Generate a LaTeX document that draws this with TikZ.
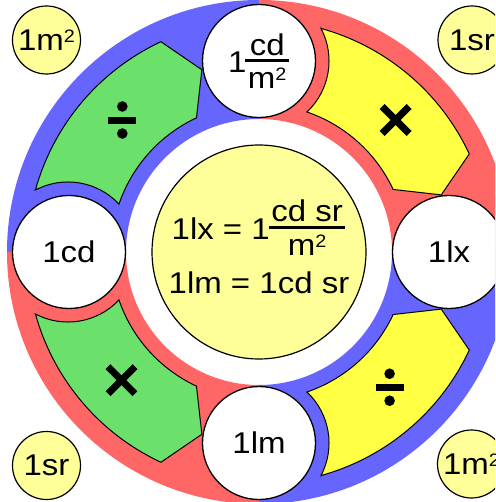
\documentclass[tikz,border=0pt]{standalone}
\usepackage{graphicx}
\usepackage{fontspec}
\setmainfont{Liberation Sans}[FakeStretch=1.1]
\definecolor{ringblue}{HTML}{6666FF}
\definecolor{ringred}{HTML}{FF6666}
\definecolor{bandgreen}{HTML}{6BE06B}
\definecolor{bandyellow}{HTML}{FFFF44}
\definecolor{paleyellow}{HTML}{FFFF99}
\newdimen\frW
\newcommand\sqr{\raisebox{0.27em}{\scalebox{0.6}{2}}}
\newcommand\fr[2]{%
  \setbox0=\hbox{#1}\setbox2=\hbox{#2}%
  \ifdim\wd0>\wd2 \frW=\wd0 \else \frW=\wd2 \fi
  \advance\frW by 5pt
  \hbox{\kern-1pt
    \rlap{\hbox to\frW{\hss\raise17.5pt\box0\hss}}%
    \rlap{\hbox to\frW{\hss\lower16pt\box2\hss}}%
    \raise10.8pt\hbox{\vrule width\frW height 3pt depth 0pt}%
    \kern1pt}}
% #1 = angle of the node at the concave end, #2 = +1 or -1 (direction), #3 = fill colour
\newcommand\arrowband[3]{%
  \filldraw[bandline, fill=#3]
    ({#1+(#2)*15.5}:232pt) arc[start angle={#1+(#2)*15.5}, end angle={#1+(#2)*65}, radius=232pt]
    -- ({#1+(#2)*72.6}:191pt) -- ({#1+(#2)*65}:148pt)
    arc[start angle={#1+(#2)*65}, end angle={#1+(#2)*18.9}, radius=148pt]
    arc[start angle={#1+(#2)*136.8}, end angle={#1+(#2)*62.3}, radius=70pt] -- cycle;}
\tikzset{
  bandline/.style={draw=black, line width=1pt, line join=miter},
  ringnode/.style={circle, draw=black, line width=1.3pt, fill=white, minimum size=113pt, inner sep=0pt, font=\fontsize{30}{36}\selectfont},
  cornernode/.style={circle, draw=black, line width=1.2pt, fill=paleyellow, minimum size=68pt, inner sep=0pt, font=\fontsize{30}{36}\selectfont},
  hub/.style={circle, draw=black, line width=1.2pt, fill=paleyellow, minimum size=214pt, inner sep=0pt, align=center, font=\fontsize{30}{36}\selectfont},
  opmark/.style={line width=7pt, line cap=butt}
}
\begin{document}
\begin{tikzpicture}[x=1pt,y=1pt]
\useasboundingbox (-259,-250) rectangle (236,252);
\clip (-259,-250) rectangle (236,252);
% coloured ring
\fill[ringblue] (90:252pt) arc[start angle=90,end angle=180,radius=252pt] -- (180:133pt) arc[start angle=180,end angle=90,radius=133pt] -- cycle;
\fill[ringred] (0:252pt) arc[start angle=0,end angle=90,radius=252pt] -- (90:133pt) arc[start angle=90,end angle=0,radius=133pt] -- cycle;
\fill[ringred] (180:252pt) arc[start angle=180,end angle=270,radius=252pt] -- (270:133pt) arc[start angle=270,end angle=180,radius=133pt] -- cycle;
\fill[ringblue] (270:252pt) arc[start angle=270,end angle=360,radius=252pt] -- (0:133pt) arc[start angle=360,end angle=270,radius=133pt] -- cycle;
% arrow bands
\arrowband{180}{-1}{bandgreen}
\arrowband{90}{-1}{bandyellow}
\arrowband{270}{1}{bandyellow}
\arrowband{180}{1}{bandgreen}
% operation marks
\coordinate (opUL) at (136:190pt);
\coordinate (opUR) at (44:190pt);
\coordinate (opLL) at (223:188pt);
\coordinate (opLR) at (-46:188pt);
\draw[opmark] ([shift={(-14,0)}]opUL) -- ([shift={(14,0)}]opUL);
\fill ([shift={(0,13.5)}]opUL) circle[radius=5.3pt];
\fill ([shift={(0,-13.5)}]opUL) circle[radius=5.3pt];
\draw[opmark] ([shift={(-14,0)}]opLR) -- ([shift={(14,0)}]opLR);
\fill ([shift={(0,13.5)}]opLR) circle[radius=5.3pt];
\fill ([shift={(0,-13.5)}]opLR) circle[radius=5.3pt];
\draw[opmark] ([shift={(-13.5,-13.5)}]opUR) -- ([shift={(13.5,13.5)}]opUR);
\draw[opmark] ([shift={(-13.5,13.5)}]opUR) -- ([shift={(13.5,-13.5)}]opUR);
\draw[opmark] ([shift={(-13.5,-13.5)}]opLL) -- ([shift={(13.5,13.5)}]opLL);
\draw[opmark] ([shift={(-13.5,13.5)}]opLL) -- ([shift={(13.5,-13.5)}]opLL);
% hub
\node[hub] (hub) at (0,0) {1lx = 1\fr{cd sr}{m\sqr}\\[15.5pt]1lm = 1cd sr\rule[-10pt]{0pt}{10pt}};
% ring nodes
\node[ringnode] (cd) at (180:190pt) {1cd};
\node[ringnode] (lum) at (90:191pt) {1\fr{cd}{m\sqr}};
\node[ringnode] (lx) at (0:190pt) {1lx};
\node[ringnode] (lm) at (270:191pt) {1lm};
% corner nodes
\node[cornernode] (tl) at (-212.5,212) {1m\sqr};
\node[cornernode] (tr) at (213,212) {1sr};
\node[cornernode] (bl) at (-212.5,-213.5) {1sr};
\node[cornernode] (br) at (212.5,-212) {1m\sqr};
\end{tikzpicture}
\end{document}
